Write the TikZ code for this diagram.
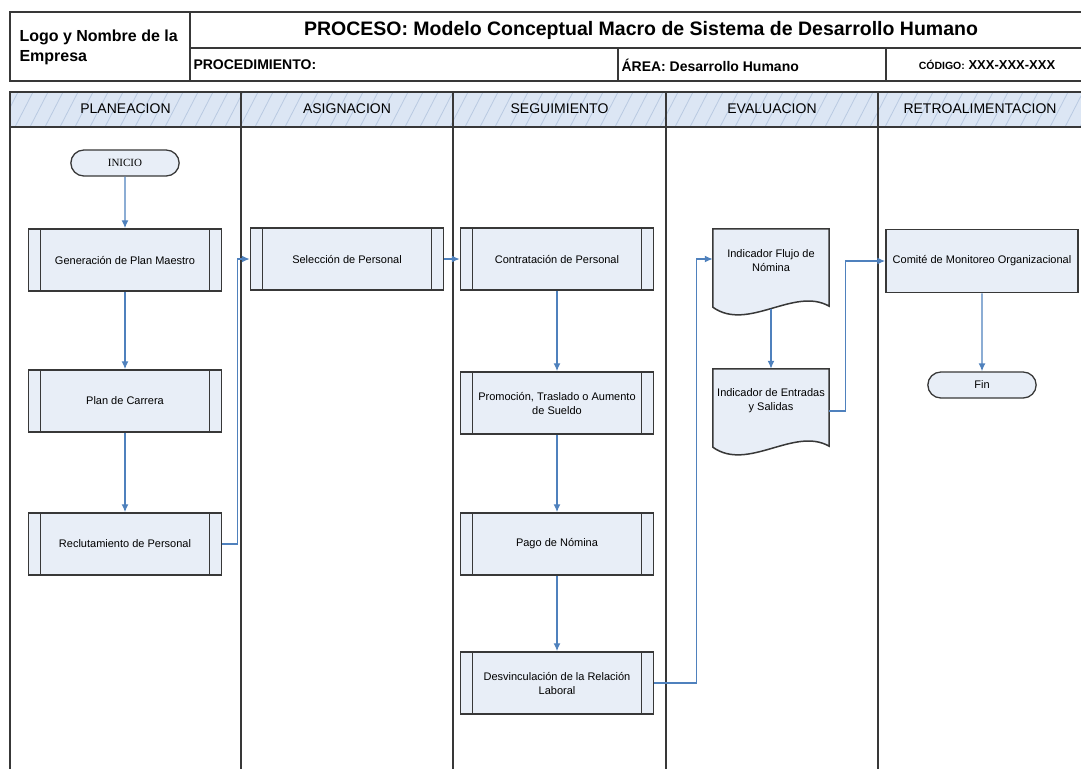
\documentclass[tikz,border=0pt]{standalone}
\usepackage{fontspec}
\setmainfont{Liberation Sans}
\newfontfamily\inicioserif{Liberation Serif}
\usetikzlibrary{arrows.meta,positioning,calc,shapes.misc,backgrounds}
\definecolor{procfill}{HTML}{E8EEF7}
\definecolor{procline}{HTML}{383838}
\definecolor{flowblue}{HTML}{4F81BD}
\definecolor{lanefill}{HTML}{DCE6F4}
\definecolor{hatchline}{HTML}{B9CAE2}
\tikzset{
    frame/.style={draw=procline, line width=1.2pt},
    proc/.style={draw=procline, line width=1.5pt, fill=procfill, minimum width=193pt, minimum height=62pt,
        align=center, font=\fontsize{11}{14}\selectfont,
        path picture={\draw[procline, line width=1.1pt]
            ([xshift=12pt]path picture bounding box.north west) -- ([xshift=12pt]path picture bounding box.south west)
            ([xshift=-12pt]path picture bounding box.north east) -- ([xshift=-12pt]path picture bounding box.south east);}},
    plainproc/.style={draw=procline, line width=1.5pt, fill=procfill, minimum width=192pt, minimum height=63pt,
        align=center, font=\fontsize{11}{14}\selectfont},
    terminal/.style={rounded rectangle, draw=procline, line width=1.3pt, fill=procfill, minimum width=115pt,
        minimum height=26pt, font=\fontsize{11}{13}\selectfont},
    docnode/.style={minimum width=116pt, minimum height=64pt, align=center, font=\fontsize{11}{14}\selectfont},
    docshape/.style={draw=procline, line width=1.5pt, fill=procfill},
    flow/.style={draw=flowblue, line width=1.4pt, -{Latex[length=8pt,width=7pt]}},
    lanetitle/.style={font=\fontsize{14}{16}\selectfont}
}
\begin{document}
\begin{tikzpicture}[x=1pt, y=-1pt]
    \useasboundingbox (0,0) rectangle (1081,769);
    % cabecera
    \draw[frame] (10,12) rectangle (1082,81);
    \draw[frame] (190,12) -- (190,81) (190,48) -- (1082,48) (618,48) -- (618,81) (886,48) -- (886,81);
    \node[anchor=west, align=left, font=\bfseries\fontsize{16}{20}\selectfont] (logo) at (16,47) {Logo y Nombre de la\\Empresa};
    \node[font=\bfseries\fontsize{19.5}{22}\selectfont] (titulo) at (641,30) {PROCESO: Modelo Conceptual Macro de Sistema de Desarrollo Humano};
    \node[anchor=west, font=\bfseries\fontsize{14}{16}\selectfont] (proced) at (190,65) {PROCEDIMIENTO:};
    \node[anchor=west, font=\bfseries\fontsize{14}{16}\selectfont] (area) at (618,65) {ÁREA: Desarrollo Humano};
    \node[font=\bfseries\fontsize{13}{15}\selectfont] (codigo) at (987,65) {{\fontsize{10.5}{12}\selectfont CÓDIGO:} XXX-XXX-XXX};

    % carriles
    \begin{scope}
        \clip (10,92) rectangle (1082,127);
        \fill[lanefill] (10,92) rectangle (1082,127);
        \foreach \hx in {-30,-15,...,1090}
            \draw[hatchline, line width=0.8pt] (\hx,127) -- ++(18,-35);
    \end{scope}
    \foreach \xa/\xb/\lname [count=\i] in {10/241/PLANEACION, 241/453/ASIGNACION, 453/666/SEGUIMIENTO,
            666/878/EVALUACION, 878/1082/RETROALIMENTACION} {
        \draw[frame] (\xa,92) rectangle (\xb,127);
        \draw[frame] (\xa,127) -- (\xa,769);
        \node[lanetitle] (lane\i) at ({(\xa+\xb)/2},109) {\lname};
    }

    % PLANEACION
    \node[terminal, font=\inicioserif\fontsize{11}{13}\selectfont] (inicio) at (125,163) {INICIO};
    \node[proc] (genplan) at (125,260) {Generación de Plan Maestro};
    \node[proc] (carrera) at (125,401) {Plan de Carrera};
    \node[proc] (reclut) at (125,544) {Reclutamiento de Personal};
    % ASIGNACION
    \node[proc] (selec) at (347,259) {Selección de Personal};
    % SEGUIMIENTO
    \node[proc] (contrat) at (557,259) {Contratación de Personal};
    \node[proc] (promo) at (557,403) {Promoción, Traslado o Aumento\\de Sueldo};
    \node[proc] (pago) at (557,544) {Pago de Nómina};
    \node[proc] (desv) at (557,683) {Desvinculación de la Relación\\Laboral};
    % EVALUACION
    \node[docnode] (flujo) at (771,261) {Indicador Flujo de\\Nómina};
    \node[docnode] (entradas) at (771,401) {Indicador de Entradas\\y Salidas};
    \begin{scope}[on background layer]
        \foreach \d in {flujo, entradas}
            \draw[docshape] (\d.north west) -- (\d.north east) -- ($(\d.south east)+(0,13)$)
                .. controls +(-35,-20) and +(35,25) .. ($(\d.south west)+(0,14)$) -- cycle;
    \end{scope}
    % RETROALIMENTACION
    \node[plainproc] (comite) at (982,261) {Comité de Monitoreo Organizacional};
    \node[terminal] (fin) at (982,385) {Fin};

    % conectores
    \draw[flow] (inicio) -- (genplan);
    \draw[flow] (genplan) -- (carrera);
    \draw[flow] (carrera) -- (reclut);
    \draw[flow] (reclut.east) -- ++(15,0) |- (selec.west);
    \draw[flow] (selec) -- (contrat);
    \draw[flow] (contrat) -- (promo);
    \draw[flow] (promo) -- (pago);
    \draw[flow] (pago) -- (desv);
    \draw[flow] (desv.east) -- ++(42,0) |- ($(flujo.west)+(0,-2)$);
    \draw[flow] ($(flujo.south)+(0,16)$) -- (entradas);
    \draw[flow] ($(entradas.east)+(0,10)$) -- ++(16,0) |- (comite.west);
    \draw[flow] (comite) -- (fin);
\end{tikzpicture}
\end{document}
